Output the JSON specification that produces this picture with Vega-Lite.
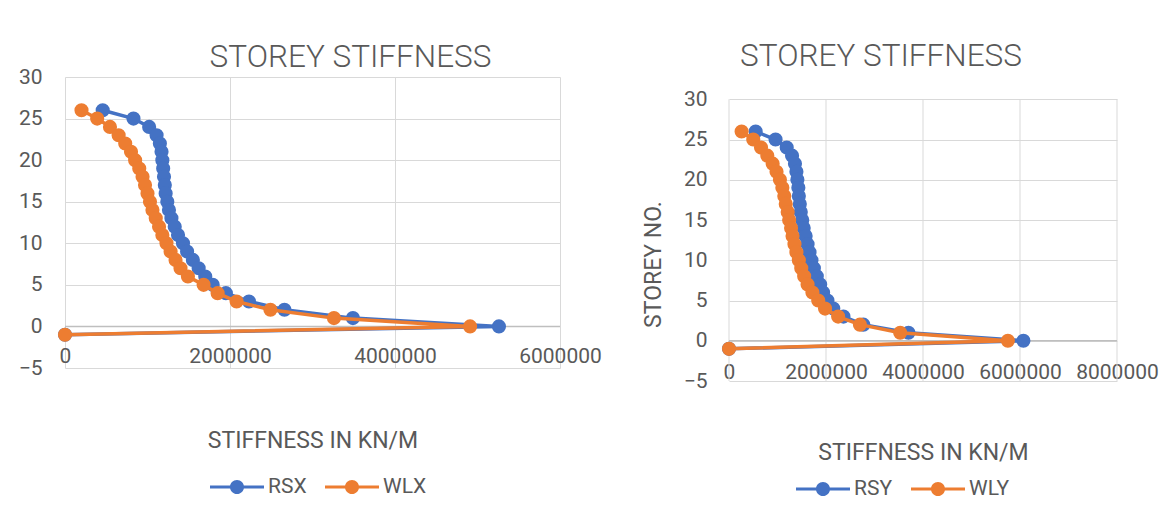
{
  "$schema": "https://vega.github.io/schema/vega-lite/v6.json",
  "background": "white",
  "padding": {"left": 18, "top": 40, "right": 0, "bottom": 0},
  "datasets": {
    "left": [
      {"s": "RSX", "storey": 26, "k": 457000}, {"s": "RSX", "storey": 25, "k": 830000}, {"s": "RSX", "storey": 24, "k": 1020000},
      {"s": "RSX", "storey": 23, "k": 1110000}, {"s": "RSX", "storey": 22, "k": 1150000}, {"s": "RSX", "storey": 21, "k": 1170000},
      {"s": "RSX", "storey": 20, "k": 1180000}, {"s": "RSX", "storey": 19, "k": 1190000}, {"s": "RSX", "storey": 18, "k": 1200000},
      {"s": "RSX", "storey": 17, "k": 1210000}, {"s": "RSX", "storey": 16, "k": 1220000}, {"s": "RSX", "storey": 15, "k": 1240000},
      {"s": "RSX", "storey": 14, "k": 1260000}, {"s": "RSX", "storey": 13, "k": 1290000}, {"s": "RSX", "storey": 12, "k": 1330000},
      {"s": "RSX", "storey": 11, "k": 1370000}, {"s": "RSX", "storey": 10, "k": 1430000}, {"s": "RSX", "storey": 9, "k": 1480000},
      {"s": "RSX", "storey": 8, "k": 1550000}, {"s": "RSX", "storey": 7, "k": 1620000}, {"s": "RSX", "storey": 6, "k": 1700000},
      {"s": "RSX", "storey": 5, "k": 1790000}, {"s": "RSX", "storey": 4, "k": 1950000}, {"s": "RSX", "storey": 3, "k": 2230000},
      {"s": "RSX", "storey": 2, "k": 2660000}, {"s": "RSX", "storey": 1, "k": 3490000}, {"s": "RSX", "storey": 0, "k": 5260000},
      {"s": "RSX", "storey": -1, "k": 0},
      {"s": "WLX", "storey": 26, "k": 200000}, {"s": "WLX", "storey": 25, "k": 390000}, {"s": "WLX", "storey": 24, "k": 545000},
      {"s": "WLX", "storey": 23, "k": 650000}, {"s": "WLX", "storey": 22, "k": 730000}, {"s": "WLX", "storey": 21, "k": 800000},
      {"s": "WLX", "storey": 20, "k": 850000}, {"s": "WLX", "storey": 19, "k": 900000}, {"s": "WLX", "storey": 18, "k": 940000},
      {"s": "WLX", "storey": 17, "k": 970000}, {"s": "WLX", "storey": 16, "k": 1000000}, {"s": "WLX", "storey": 15, "k": 1030000},
      {"s": "WLX", "storey": 14, "k": 1060000}, {"s": "WLX", "storey": 13, "k": 1100000}, {"s": "WLX", "storey": 12, "k": 1140000},
      {"s": "WLX", "storey": 11, "k": 1180000}, {"s": "WLX", "storey": 10, "k": 1230000}, {"s": "WLX", "storey": 9, "k": 1280000},
      {"s": "WLX", "storey": 8, "k": 1340000}, {"s": "WLX", "storey": 7, "k": 1400000}, {"s": "WLX", "storey": 6, "k": 1490000},
      {"s": "WLX", "storey": 5, "k": 1680000}, {"s": "WLX", "storey": 4, "k": 1850000}, {"s": "WLX", "storey": 3, "k": 2080000},
      {"s": "WLX", "storey": 2, "k": 2490000}, {"s": "WLX", "storey": 1, "k": 3260000}, {"s": "WLX", "storey": 0, "k": 4910000},
      {"s": "WLX", "storey": -1, "k": 0}
    ],
    "right": [
      {"s": "RSY", "storey": 26, "k": 550000}, {"s": "RSY", "storey": 25, "k": 960000}, {"s": "RSY", "storey": 24, "k": 1190000},
      {"s": "RSY", "storey": 23, "k": 1300000}, {"s": "RSY", "storey": 22, "k": 1360000}, {"s": "RSY", "storey": 21, "k": 1390000},
      {"s": "RSY", "storey": 20, "k": 1410000}, {"s": "RSY", "storey": 19, "k": 1430000}, {"s": "RSY", "storey": 18, "k": 1440000},
      {"s": "RSY", "storey": 17, "k": 1460000}, {"s": "RSY", "storey": 16, "k": 1480000}, {"s": "RSY", "storey": 15, "k": 1510000},
      {"s": "RSY", "storey": 14, "k": 1540000}, {"s": "RSY", "storey": 13, "k": 1580000}, {"s": "RSY", "storey": 12, "k": 1620000},
      {"s": "RSY", "storey": 11, "k": 1660000}, {"s": "RSY", "storey": 10, "k": 1700000}, {"s": "RSY", "storey": 9, "k": 1750000},
      {"s": "RSY", "storey": 8, "k": 1810000}, {"s": "RSY", "storey": 7, "k": 1880000}, {"s": "RSY", "storey": 6, "k": 1940000},
      {"s": "RSY", "storey": 5, "k": 2030000}, {"s": "RSY", "storey": 4, "k": 2150000}, {"s": "RSY", "storey": 3, "k": 2360000},
      {"s": "RSY", "storey": 2, "k": 2770000}, {"s": "RSY", "storey": 1, "k": 3700000}, {"s": "RSY", "storey": 0, "k": 6070000},
      {"s": "RSY", "storey": -1, "k": 0},
      {"s": "WLY", "storey": 26, "k": 260000}, {"s": "WLY", "storey": 25, "k": 500000}, {"s": "WLY", "storey": 24, "k": 660000},
      {"s": "WLY", "storey": 23, "k": 790000}, {"s": "WLY", "storey": 22, "k": 900000}, {"s": "WLY", "storey": 21, "k": 980000},
      {"s": "WLY", "storey": 20, "k": 1050000}, {"s": "WLY", "storey": 19, "k": 1100000}, {"s": "WLY", "storey": 18, "k": 1140000},
      {"s": "WLY", "storey": 17, "k": 1170000}, {"s": "WLY", "storey": 16, "k": 1210000}, {"s": "WLY", "storey": 15, "k": 1240000},
      {"s": "WLY", "storey": 14, "k": 1280000}, {"s": "WLY", "storey": 13, "k": 1310000}, {"s": "WLY", "storey": 12, "k": 1350000},
      {"s": "WLY", "storey": 11, "k": 1390000}, {"s": "WLY", "storey": 10, "k": 1440000}, {"s": "WLY", "storey": 9, "k": 1490000},
      {"s": "WLY", "storey": 8, "k": 1550000}, {"s": "WLY", "storey": 7, "k": 1620000}, {"s": "WLY", "storey": 6, "k": 1720000},
      {"s": "WLY", "storey": 5, "k": 1840000}, {"s": "WLY", "storey": 4, "k": 1980000}, {"s": "WLY", "storey": 3, "k": 2250000},
      {"s": "WLY", "storey": 2, "k": 2700000}, {"s": "WLY", "storey": 1, "k": 3530000}, {"s": "WLY", "storey": 0, "k": 5750000},
      {"s": "WLY", "storey": -1, "k": 0}
    ]
  },
  "hconcat": [
    {
      "width": 495,
      "height": 291,
      "data": {"name": "left"},
      "title": {"text": "STOREY STIFFNESS", "dx": 38, "offset": -7},
      "layer": [
        {
          "data": {"values": [{}]},
          "mark": {"type": "rule", "color": "#BFBFBF", "strokeWidth": 1.5},
          "encoding": {"y": {"datum": 0, "type": "quantitative"}}
        },
        {
          "transform": [{"filter": "datum.s === 'RSX'"}],
          "mark": {"type": "line", "strokeWidth": 3.5, "color": "#4472C4"},
          "encoding": {
            "x": {"field": "k", "type": "quantitative"},
            "y": {"field": "storey", "type": "quantitative"},
            "order": {"field": "storey", "sort": "descending"}
          }
        },
        {
          "transform": [{"filter": "datum.s === 'RSX'"}],
          "mark": {"type": "point", "filled": true, "size": 200, "opacity": 1},
          "encoding": {
            "x": {"field": "k", "type": "quantitative"},
            "y": {"field": "storey", "type": "quantitative"},
            "color": {"field": "s", "type": "nominal"}
          }
        },
        {
          "transform": [{"filter": "datum.s === 'WLX'"}],
          "mark": {"type": "line", "strokeWidth": 3.5, "color": "#ED7D31"},
          "encoding": {
            "x": {"field": "k", "type": "quantitative"},
            "y": {"field": "storey", "type": "quantitative"},
            "order": {"field": "storey", "sort": "descending"}
          }
        },
        {
          "transform": [{"filter": "datum.s === 'WLX'"}],
          "mark": {"type": "point", "filled": true, "size": 200, "opacity": 1},
          "encoding": {
            "x": {"field": "k", "type": "quantitative",
              "scale": {"domain": [0, 6000000], "nice": false},
              "axis": {"title": "STIFFNESS IN KN/M", "values": [0, 2000000, 4000000, 6000000], "format": "d", "offset": -23, "titlePadding": 63}},
            "y": {"field": "storey", "type": "quantitative",
              "scale": {"domain": [-5, 30], "nice": false, "zero": false},
              "axis": {"title": null, "values": [-5, 0, 5, 10, 15, 20, 25, 30], "format": "d", "labelPadding": 23}},
            "color": {"field": "s", "type": "nominal",
              "scale": {"domain": ["RSX", "WLX"], "range": ["#4472C4", "#ED7D31"]},
              "legend": {"orient": "none", "legendX": 145, "legendY": 383}}
          }
        }
      ]
    },
    {
      "width": 388,
      "height": 304,
      "data": {"name": "right"},
      "title": {"text": "STOREY STIFFNESS", "dx": -42, "offset": 5},
      "layer": [
        {
          "data": {"values": [{"g": 0}, {"g": 2000000}, {"g": 4000000}, {"g": 6000000}, {"g": 8000000}]},
          "mark": {"type": "rule", "color": "#D9D9D9", "strokeWidth": 1},
          "encoding": {
            "x": {"field": "g", "type": "quantitative"},
            "y": {"datum": -5, "type": "quantitative"},
            "y2": {"datum": 30}
          }
        },
        {
          "data": {"values": [{}]},
          "mark": {"type": "rule", "color": "#BFBFBF", "strokeWidth": 1.5},
          "encoding": {"y": {"datum": 0, "type": "quantitative"}}
        },
        {
          "transform": [{"filter": "datum.s === 'RSY'"}],
          "mark": {"type": "line", "strokeWidth": 3.5, "color": "#4472C4"},
          "encoding": {
            "x": {"field": "k", "type": "quantitative"},
            "y": {"field": "storey", "type": "quantitative"},
            "order": {"field": "storey", "sort": "descending"}
          }
        },
        {
          "transform": [{"filter": "datum.s === 'RSY'"}],
          "mark": {"type": "point", "filled": true, "size": 200, "opacity": 1},
          "encoding": {
            "x": {"field": "k", "type": "quantitative"},
            "y": {"field": "storey", "type": "quantitative"},
            "color": {"field": "s", "type": "nominal"}
          }
        },
        {
          "transform": [{"filter": "datum.s === 'WLY'"}],
          "mark": {"type": "line", "strokeWidth": 3.5, "color": "#ED7D31"},
          "encoding": {
            "x": {"field": "k", "type": "quantitative"},
            "y": {"field": "storey", "type": "quantitative"},
            "order": {"field": "storey", "sort": "descending"}
          }
        },
        {
          "transform": [{"filter": "datum.s === 'WLY'"}],
          "mark": {"type": "point", "filled": true, "size": 200, "opacity": 1},
          "encoding": {
            "x": {"field": "k", "type": "quantitative",
              "scale": {"domain": [0, 8000000], "nice": false},
              "axis": {"title": "STIFFNESS IN KN/M", "values": [0, 2000000, 4000000, 6000000, 8000000], "format": "d", "offset": -20, "titlePadding": 59, "grid": false}},
            "y": {"field": "storey", "type": "quantitative",
              "scale": {"domain": [-5, 32.77], "nice": false, "zero": false},
              "axis": {"title": "STOREY NO.", "values": [-5, 0, 5, 10, 15, 20, 25, 30], "format": "d", "labelPadding": 22, "titlePadding": 18, "titleY": 187}},
            "color": {"field": "s", "type": "nominal",
              "scale": {"domain": ["RSY", "WLY"], "range": ["#4472C4", "#ED7D31"]},
              "legend": {"orient": "none", "legendX": 67, "legendY": 385}}
          }
        }
      ]
    }
  ],
  "spacing": 40,
  "align": "none",
  "resolve": {
    "scale": {"color": "independent", "x": "independent", "y": "independent"},
    "legend": {"color": "independent"}
  },
  "config": {
    "view": {"stroke": null},
    "font": "Roboto",
    "title": {"font": "Roboto", "fontSize": 31.5, "fontWeight": 300, "color": "#595959", "anchor": "middle"},
    "axis": {
      "labelFont": "Roboto", "labelFontSize": 21, "labelColor": "#595959",
      "titleFont": "Roboto", "titleFontSize": 23, "titleFontWeight": "normal", "titleColor": "#595959",
      "ticks": false, "tickSize": 0, "domain": false,
      "grid": true, "gridColor": "#D9D9D9", "gridWidth": 1,
      "labelFlush": false, "labelOverlap": false
    },
    "axisX": {"labelPadding": 0, "labelBaseline": "top"},
    "axisY": {"titleFontSize": 23},
    "legend": {
      "direction": "horizontal", "title": null,
      "labelFont": "Roboto", "labelFontSize": 21, "labelColor": "#595959",
      "labelOffset": 4, "columnPadding": 18, "padding": 0,
      "symbolType": "M-1,-0.055H-0.2V0.055H-1Z M0.2,-0.055H1V0.055H0.2Z M0.26,0A0.26,0.26 0 1,1 -0.26,0A0.26,0.26 0 1,1 0.26,0Z",
      "symbolSize": 2916, "symbolStrokeWidth": 0, "symbolOpacity": 1
    }
  }
}
